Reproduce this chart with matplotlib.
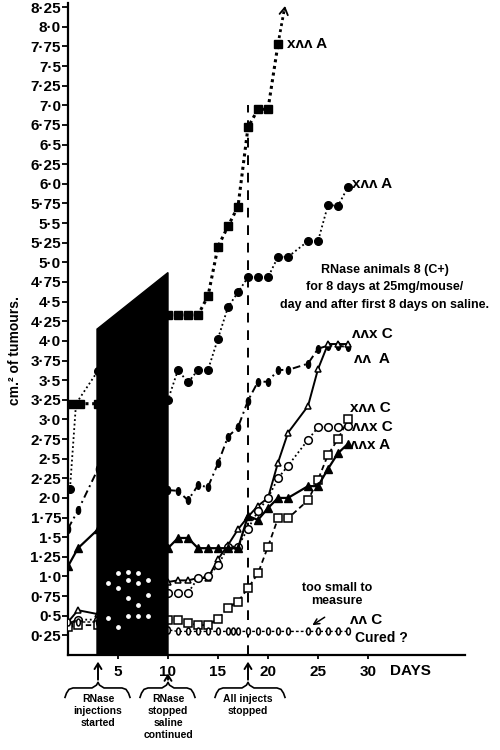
import numpy as np
import matplotlib.pyplot as plt

plt.rcParams['font.family'] = ['Liberation Sans', 'DejaVu Sans']
plt.rcParams['font.weight'] = 'bold'

# ---- data (days, cm^2 of tumours) ----
sq_days = [0.4, 1.2, 3, 10, 11, 12, 13, 14, 15, 16, 17, 18, 19, 20, 21]
sq_vals = [3.2, 3.2, 3.2, 4.33, 4.33, 4.33, 4.33, 4.57, 5.2, 5.46, 5.71, 6.72, 6.95, 6.95, 7.78]

ci_days = [0.2, 0.8, 3, 10, 11, 12, 13, 14, 15, 16, 17, 18, 19, 20, 21, 22, 24, 25, 26, 27, 28]
ci_vals = [2.12, 3.2, 3.62, 3.25, 3.63, 3.47, 3.63, 3.63, 4.03, 4.43, 4.62, 4.81, 4.81, 4.81,
           5.07, 5.07, 5.27, 5.27, 5.73, 5.72, 5.96]

days = [0, 1, 3, 10, 11, 12, 13, 14, 15, 16, 17, 18, 19, 20, 21, 22, 24, 25, 26, 27, 28]
ob_vals = [1.61, 1.84, 2.37, 2.1, 2.09, 1.97, 2.16, 2.14, 2.44, 2.78, 2.9, 3.24, 3.48, 3.48,
           3.63, 3.63, 3.71, 3.9, 3.94, 3.94, 3.92]
otri_vals = [0.42, 0.57, 0.52, 0.93, 0.95, 0.95, 0.98, 0.98, 1.22, 1.4, 1.6, 1.76, 1.9, 2.0,
             2.45, 2.83, 3.17, 3.64, 3.96, 3.96, 3.96]
oci_vals = [0.4, 0.45, 0.45, 0.79, 0.79, 0.79, 0.98, 1.0, 1.14, 1.38, 1.38, 1.61, 1.83, 2.0,
            2.25, 2.41, 2.74, 2.9, 2.9, 2.9, 2.92]
osq_vals = [0.35, 0.38, 0.38, 0.45, 0.45, 0.41, 0.38, 0.38, 0.46, 0.6, 0.68, 0.85, 1.04, 1.38,
            1.74, 1.74, 1.97, 2.23, 2.55, 2.75, 3.0]
ftri_vals = [1.13, 1.36, 1.6, 1.36, 1.49, 1.49, 1.36, 1.36, 1.36, 1.36, 1.36, 1.77, 1.72, 1.87,
             2.0, 2.0, 2.15, 2.15, 2.37, 2.57, 2.69]

cured_days = [0, 1, 3, 10, 11, 12, 13, 14, 15, 16, 16.5, 17, 18, 19, 20, 21, 22, 24, 25, 26, 27, 28]
cured_vals = [0.42, 0.42, 0.42, 0.32, 0.3, 0.3, 0.3, 0.3, 0.3, 0.3, 0.3, 0.3, 0.3, 0.3, 0.3,
              0.3, 0.3, 0.3, 0.3, 0.3, 0.3, 0.3]

# points left showing through the black injection block
hidden_days = [4, 5, 6, 7, 8, 4, 5, 6, 7, 8, 5, 6, 7, 6, 7, 8]
hidden_vals = [0.47, 0.36, 0.5, 0.5, 0.5, 0.92, 0.85, 0.73, 0.64, 0.76, 1.04, 1.06, 1.04, 0.95, 0.92, 0.95]

# injection block outline (days, value)
block_days = [2.9, 2.9, 10, 10]
block_vals = [0, 4.15, 4.87, 0]

yticks = [0.25 * i for i in range(1, 34)]
xticks = [5, 10, 15, 20, 25, 30]


def tick_label(v):
    whole = int(v)
    frac = round((v - whole) * 100)
    if frac == 0:
        return f"{whole}\u00b70"
    if frac == 50:
        return f"{whole}\u00b75"
    return f"{whole}\u00b7{frac}"


# tall ellipse marker
t = np.linspace(0, 2 * np.pi, 30)
oval = list(zip(0.55 * np.cos(t), np.sin(t)))

fig = plt.figure(figsize=(5, 7.5), dpi=100)
ax = fig.add_axes([0.136, 0.1267, 0.794, 0.869])

ax.plot(sq_days, sq_vals, ls=(0, (1, 1.2)), lw=2.2, color='black', marker='s', ms=5.5, zorder=3)
ax.plot(ci_days, ci_vals, ls=(0, (1, 1.5)), lw=1.3, color='black', marker='o', ms=5.5, zorder=3)
ax.plot(days, ob_vals, ls=(0, (4, 2, 1, 2)), lw=1.4, color='black', marker=oval, ms=5.5, zorder=3)
ax.plot(days, otri_vals, ls='-', lw=1.4, color='black', marker='^', ms=5, mfc='white', mew=1.1, zorder=3)
ax.plot(days, oci_vals, ls=(0, (1, 1.5)), lw=1.3, color='black', marker='o', ms=5.5, mfc='white', mew=1.1, zorder=3)
ax.plot(days, osq_vals, ls=(0, (3, 2)), lw=1.3, color='black', marker='s', ms=5.5, mfc='white', mew=1.1, zorder=3)
ax.plot(days, ftri_vals, ls='-', lw=1.6, color='black', marker='^', ms=5.5, zorder=3)
ax.plot(cured_days, cured_vals, ls=(0, (2, 1.5)), lw=1.0, color='black', marker=oval, ms=5,
        mfc='white', mew=1.1, zorder=3)

# arrow off the top of the fastest growing tumour
ax.plot([sq_days[-1], 21.6], [sq_vals[-1], 8.2], ls=(0, (1, 1.2)), lw=2.0, color='black', clip_on=False)
ax.annotate('', xy=(21.75, 8.3), xytext=(21.6, 8.18),
            arrowprops=dict(arrowstyle='->,head_length=0.5,head_width=0.3', lw=1.3, color='black'),
            annotation_clip=False)

# black injection block and the white specks in it
ax.fill(block_days, block_vals, color='black', zorder=5)
ax.scatter(hidden_days, hidden_vals, s=6, color='white', zorder=6)

# all injections stopped
ax.plot([18, 18], [0, 7.0], ls=(0, (5, 4)), lw=1.4, color='black', zorder=2)

ax.set_xlim(0, 39.7)
ax.set_ylim(0, 8.3)
for s in ['top', 'right']:
    ax.spines[s].set_visible(False)
for s in ['left', 'bottom']:
    ax.spines[s].set_linewidth(1.6)

ax.set_yticks(yticks)
ax.set_yticklabels([tick_label(v) for v in yticks], fontsize=11, fontweight='bold')
ax.set_xticks(xticks)
ax.set_xticklabels([str(v) for v in xticks], fontsize=11, fontweight='bold')
ax.tick_params(axis='y', direction='out', length=4, width=1.3, pad=1)
ax.tick_params(axis='x', direction='out', length=3, width=1.3, pad=4)
ax.text(32.2, -0.21, 'DAYS', fontsize=11, fontweight='bold', ha='left', va='center')

fig.text(0.03, 0.533, 'cm.\u00b2 of tumours.', rotation=90, fontsize=10, fontweight='bold',
         ha='center', va='center')

# labels at the ends of the curves
lab = dict(fontsize=11, fontweight='bold', va='center', ha='left')
ax.text(21.9, 7.78, 'x\u028c\u028c A', **lab)
ax.text(28.4, 6.0, 'x\u028c\u028c A', **lab)
ax.text(28.4, 4.09, '\u028c\u028cx C', **lab)
ax.text(28.6, 3.77, '\u028c\u028c  A', **lab)
ax.text(28.2, 3.14, 'x\u028c\u028c C', **lab)
ax.text(28.4, 2.9, '\u028c\u028cx C', **lab)
ax.text(28.2, 2.67, '\u028c\u028cx A', **lab)
ax.text(28.2, 0.44, '\u028c\u028c C', **lab)
ax.text(28.7, 0.22, 'Cured ?', fontsize=10, fontweight='bold', va='center', ha='left')

ax.text(31.7, 4.68, 'RNase animals 8 (C+)\nfor 8 days at 25mg/mouse/\nday and after first 8 days on saline.',
        fontsize=9, fontweight='bold', ha='center', va='center', linespacing=1.6)

ax.text(26.9, 0.77, 'too small to\nmeasure', fontsize=9, fontweight='bold', ha='center', va='center',
        linespacing=1.1)
ax.annotate('', xy=(24.2, 0.36), xytext=(25.9, 0.5),
            arrowprops=dict(arrowstyle='->', lw=1.1, color='black'))


# curly braces and arrows under the day axis
def brace(xc, x0, x1, ytop):
    h = 0.12
    xs = [x0, x0 + 0.15, x0 + 0.4, x0 + 0.8, xc - 0.6, xc - 0.15, xc, xc + 0.15, xc + 0.6,
          x1 - 0.8, x1 - 0.4, x1 - 0.15, x1]
    ys = [ytop - h, ytop - h * 0.55, ytop - h * 0.15, ytop, ytop, ytop + h * 0.3, ytop + h * 0.6,
          ytop + h * 0.3, ytop, ytop, ytop - h * 0.15, ytop - h * 0.55, ytop - h]
    ax.plot(xs, ys, color='black', lw=1.2, clip_on=False)


notes = [(3, -0.3, 6.2, -0.05, 'RNase\ninjections\nstarted'),
         (10, 7.2, 12.7, -0.2, 'RNase\nstopped\nsaline\ncontinued'),
         (18, 14.7, 21.7, -0.05, 'All injects\nstopped')]
for xc, x0, x1, tip, txt in notes:
    brace(xc, x0, x1, -0.42)
    ax.annotate('', xy=(xc, tip), xytext=(xc, -0.35),
                arrowprops=dict(arrowstyle='->,head_length=0.4,head_width=0.25', lw=1.4, color='black'),
                annotation_clip=False)
    ax.text(xc, -0.5, txt, fontsize=7.5, fontweight='bold', ha='center', va='top', linespacing=1.25)

fig.savefig('out.png', dpi=100)
